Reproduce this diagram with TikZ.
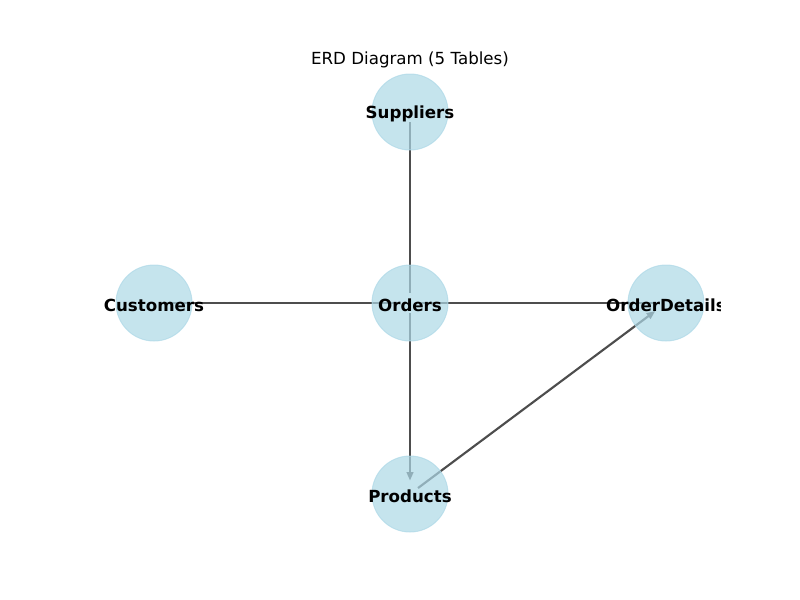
\documentclass[tikz,border=0pt]{standalone}
\usepackage{fontspec}
\setmainfont{DejaVu Sans}
\usepackage{xcolor}
\usepackage{tikz}
\usetikzlibrary{arrows.meta,backgrounds}
\definecolor{nodeblue}{HTML}{ADD8E6}
\definecolor{edgegray}{HTML}{4D4D4D}

\begin{document}
\begin{tikzpicture}[
	main node/.style={circle,fill=nodeblue,draw=nodeblue,line width=0.75pt,fill opacity=0.7,draw opacity=0.7,minimum size=57pt,inner sep=0pt,
		label={[text opacity=1,yshift=-1.5pt,font=\fontsize{12.5}{15}\selectfont\bfseries]center:#1}},
	rel/.style={draw=edgegray,line width=1.6pt,shorten >=7.5pt,shorten <=7.5pt,-},
	relarrow/.style={rel,-{Triangle[length=6.5pt,width=5pt]},shorten >=10pt}]

	\useasboundingbox (0,0) rectangle (600pt,-450pt);
	\node[font=\fontsize{12.5}{15}\selectfont] (title) at (307.5pt,-45pt) {ERD Diagram (5 Tables)};

	\begin{scope}
		\clip (75pt,-54pt) rectangle (540pt,-400.5pt);
		\node[main node=Orders] (1) at (307.5pt,-227.25pt) {};
		\node[main node=Suppliers] (2) [above of=1, node distance=143.25pt] {};
		\node[main node=Customers] (3) [left of=1, node distance=192pt] {};
		\node[main node=OrderDetails] (4) [right of=1, node distance=192pt] {};
		\node[main node=Products] (5) [below of=1, node distance=143.25pt] {};

		\begin{scope}[on background layer]
			\path
			(2.center) edge[rel] (1.center)
			(3.center) edge[rel] (1.center)
			(1.center) edge[rel] (4.center)
			edge[relarrow] (5.center)
			(5.center) edge[relarrow] (4.center);
		\end{scope}
	\end{scope}

\end{tikzpicture}
\end{document}
